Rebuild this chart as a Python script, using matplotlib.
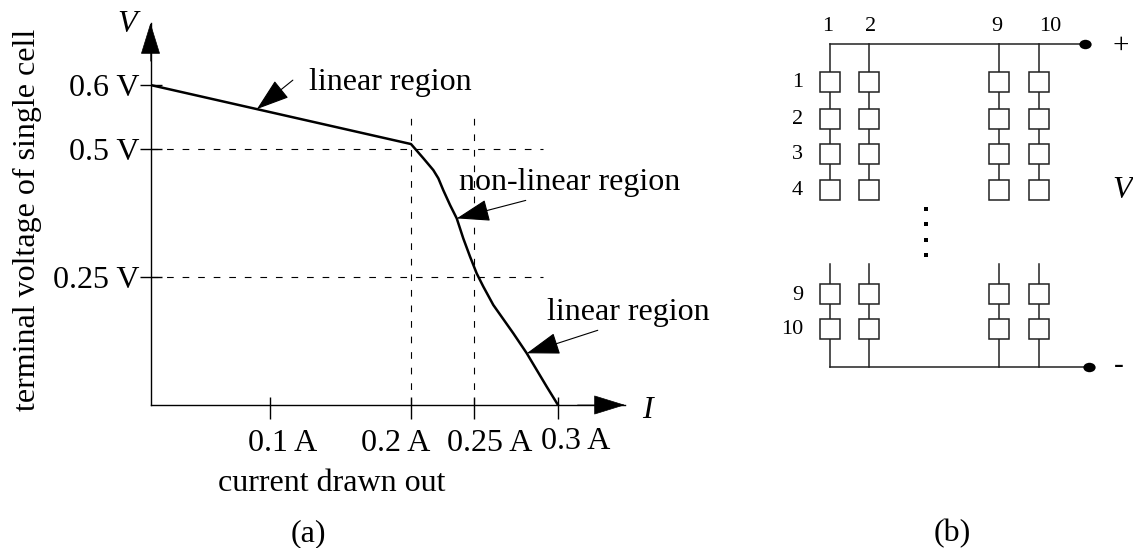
import numpy as np
import matplotlib
matplotlib.use("Agg")
import matplotlib.pyplot as plt
from matplotlib.markers import MarkerStyle
from matplotlib.transforms import Affine2D, ScaledTranslation

plt.rcParams['font.family'] = ['Liberation Serif', 'DejaVu Serif']

W, H = 1133, 548

# ---- panel (a) data
current = [0.0, 0.2, 0.2098, 0.2177, 0.2217, 0.2256, 0.2310, 0.2363, 0.2415, 0.2468,
           0.2516, 0.2555, 0.2615, 0.2734, 0.2814, 0.2933, 0.30]
voltage = [0.6, 0.507, 0.481, 0.458, 0.442, 0.419, 0.390, 0.364, 0.325, 0.290,
           0.257, 0.2315, 0.1953, 0.140, 0.101, 0.0357, 0.0]
x_ticks = [0.1, 0.2, 0.25, 0.3]
x_tick_labels = ['0.1 A', '0.2 A', '0.25 A', '0.3 A']
y_ticks = [0.25, 0.5, 0.6]
y_tick_labels = ['0.25 V', '0.5 V', '0.6 V']
dash_top_v = 0.56
dash_right_i = 0.2911

# non-uniform axis scales of the drawing (value -> pixel)
i_ctrl = [0.0, 0.1, 0.2, 0.25, 0.3, 0.35]
i_px = [150.5, 270, 411, 474, 558, 625]
v_ctrl = [0.0, 0.25, 0.5, 0.6, 0.85]
v_px = [405, 277, 148.5, 85, 23]

# ---- panel (b) data
columns = [1, 2, 9, 10]
top_rows = [1, 2, 3, 4]
bottom_rows = [9, 10]
col_ctrl = [0, 1, 2, 9, 10, 11, 12]
col_px = [775, 830, 869, 999, 1039, 1085, 1133]
row_ctrl = [-1, 0, 1, 2, 3, 4, 9, 10, 11, 12]
row_px = [10, 44, 81.7, 118.5, 153.5, 189.5, 294, 329, 367, 400]
ellipsis_rows = [4.93, 5.65, 6.42, 7.13]
ellipsis_col = 5.07
stub_row = 7.56
top_bus_row, bottom_bus_row = 0, 11
terminal_cols = [11.0, 11.08]


def px_axes(fig, left, right, top, bottom):
    return fig.add_axes([left / W, 1 - bottom / H, (right - left) / W, (bottom - top) / H])


fig = plt.figure(figsize=(W / 100, H / 100), dpi=100, facecolor='white')

# =========== panel (a)
ax = px_axes(fig, i_px[0], i_px[-1], v_px[-1], v_px[0])
ax.patch.set_alpha(0)
ax.set_xscale('function', functions=(lambda v: np.interp(v, i_ctrl, i_px),
                                     lambda p: np.interp(p, i_px, i_ctrl)))
neg_v = [-p for p in v_px]
ax.set_yscale('function', functions=(lambda v: np.interp(v, v_ctrl, neg_v),
                                     lambda p: np.interp(p, neg_v, v_ctrl)))
ax.set_xlim(i_ctrl[0], i_ctrl[-1])
ax.set_ylim(v_ctrl[0], v_ctrl[-1])
for s in ('top', 'right'):
    ax.spines[s].set_visible(False)
for s in ('left', 'bottom'):
    ax.spines[s].set_linewidth(1.0)

ax.set_xticks(x_ticks, x_tick_labels, fontsize=23)
ax.set_yticks(y_ticks, y_tick_labels, fontsize=23)
ax.xaxis.remove_overlapping_locs = False
ax.set_xticks(x_ticks, minor=True)
ax.tick_params(axis='x', which='major', direction='out', length=10, width=1.0, pad=7)
ax.tick_params(axis='x', which='minor', direction='in', length=5.8, width=1.0)
ax.tick_params(axis='y', direction='inout', length=16.5, width=1.0, pad=0)
shifts = [13, -15, 16, 18]
ups = [0, 0, 0, 2]
for lab, dx, dy in zip(ax.get_xticklabels(), shifts, ups):
    lab.set_transform(lab.get_transform() + ScaledTranslation(dx / 100, dy / 100, fig.dpi_scale_trans))

dash = (0, (6, 8))
for v in (0.5, 0.25):
    ax.plot([0, dash_right_i], [v, v], color='k', lw=0.8, ls=dash)
for i in (0.2, 0.25):
    ax.plot([i, i], [0, dash_top_v], color='k', lw=0.8, ls=dash)

ax.plot(current, voltage, color='k', lw=1.8, solid_joinstyle='round')

# axis arrow heads
head = dict(arrowstyle='-|>,head_length=21,head_width=6.5', mutation_scale=1,
            color='k', shrinkA=0, shrinkB=0, lw=0.5)
ax.annotate('', xy=(0, 1), xytext=(0, 0.9), xycoords='axes fraction',
            textcoords='axes fraction', arrowprops=head)
ax.annotate('', xy=(1, 0), xytext=(0.9, 0), xycoords='axes fraction',
            textcoords='axes fraction', arrowprops=head)

# region call-outs
callouts = [(0.089, 0.562, 36, 29), (0.2363, 0.364, 69, 18), (0.2814, 0.101, 71, 23)]
for ci, cv, ox, oy in callouts:
    ax.annotate('', xy=(ci, cv), xytext=(ox, oy), textcoords='offset pixels',
                arrowprops=dict(arrowstyle='-|>,head_length=21,head_width=7',
                                mutation_scale=1, color='k', shrinkA=0, shrinkB=0, lw=0.8))

# =========== panel (b)
bx = px_axes(fig, col_px[0], col_px[-1], row_px[0], row_px[-1])
bx.patch.set_alpha(0)
bx.set_xscale('function', functions=(lambda v: np.interp(v, col_ctrl, col_px),
                                     lambda p: np.interp(p, col_px, col_ctrl)))
bx.set_yscale('function', functions=(lambda v: np.interp(v, row_ctrl, row_px),
                                     lambda p: np.interp(p, row_px, row_ctrl)))
bx.set_xlim(col_ctrl[0], col_ctrl[-1])
bx.set_ylim(row_ctrl[-1], row_ctrl[0])
bx.axis('off')

wire = dict(color='#222222', lw=1.1, zorder=1)
bx.plot([columns[0], terminal_cols[0]], [top_bus_row] * 2, **wire)
bx.plot([columns[0], terminal_cols[1]], [bottom_bus_row] * 2, **wire)
for c in columns:
    bx.plot([c, c], [top_bus_row, top_rows[-1]], **wire)
    bx.plot([c, c], [stub_row, bottom_bus_row], **wire)
    cells = top_rows + bottom_rows
    bx.plot([c] * len(cells), cells, ls='none', marker='s', ms=14.2, mfc='white',
            mec='#222222', mew=1.1, zorder=2)
bx.plot([ellipsis_col] * len(ellipsis_rows), ellipsis_rows, ls='none', marker='s',
        ms=2.6, mew=0, color='k')
oval = MarkerStyle('o', transform=Affine2D().scale(1.3, 1.0))
bx.plot(terminal_cols[0], top_bus_row, marker=oval, ms=6.8, color='k', mew=0)
bx.plot(terminal_cols[1], bottom_bus_row, marker=oval, ms=6.8, color='k', mew=0)

top_shift = [-2, 2, -2, 11.5]
for c, dx in zip(columns, top_shift):
    bx.annotate(str(c), (c, top_bus_row), xytext=(dx, 17.5), textcoords='offset pixels',
                ha='center', va='center', fontsize=16)
for r in top_rows + bottom_rows:
    bx.annotate(str(r), (columns[0], r), xytext=(-27, -1), textcoords='offset pixels',
                ha='right', va='center', fontsize=16)


# =========== free text (pixel position of the baseline)
def label(px, py, s, **kw):
    fig.text(px / W, 1 - py / H, s, ha=kw.pop('ha', 'center'), va='baseline', **kw)


label(127, 32, 'V', fontsize=23, style='italic')
label(647, 418, 'I', fontsize=23, style='italic')
label(35, 220, 'terminal voltage of single cell', fontsize=23, rotation=90,
      rotation_mode='anchor')
label(332, 491, 'current drawn out', fontsize=23)
label(308, 541, '(a)', fontsize=23)
label(952, 541, '(b)', fontsize=23)
label(390, 90, 'linear region', fontsize=23)
label(570, 190, 'non-linear region', fontsize=23)
label(628, 320, 'linear region', fontsize=23)
label(1120.5, 53, '+', fontsize=21)
label(1119, 373, '-', fontsize=21)
label(1122, 198, 'V', fontsize=23, style='italic')

fig.savefig('out.png', dpi=100)
